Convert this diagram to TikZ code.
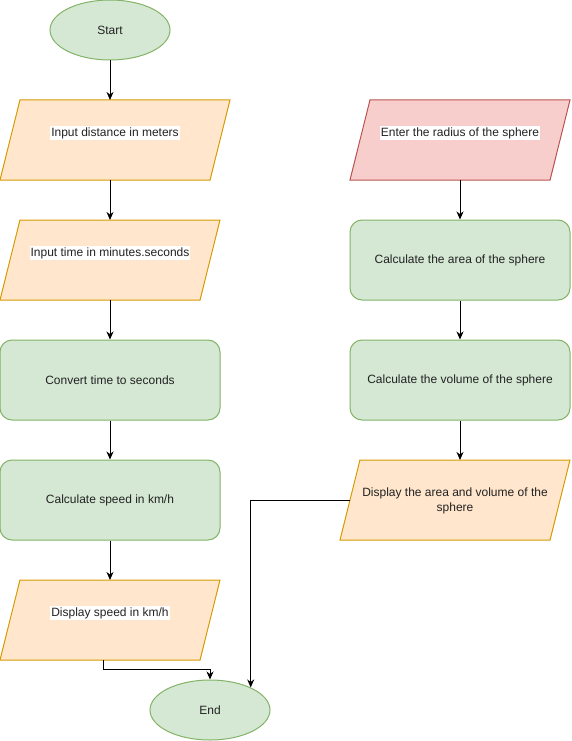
\documentclass[tikz,border=0pt]{standalone}
\usepackage{fontspec}
\setmainfont{Liberation Sans}
\usepackage{tikz}
\usetikzlibrary{arrows.meta,positioning,shapes.geometric}

\definecolor{termfill}{HTML}{D5E8D4}
\definecolor{termline}{HTML}{82B366}
\definecolor{iofill}{HTML}{FFE6CC}
\definecolor{ioline}{HTML}{D79B00}
\definecolor{redfill}{HTML}{F8CECC}
\definecolor{redline}{HTML}{B85450}
\definecolor{txt}{HTML}{222222}

\tikzset{
    term/.style={ellipse, draw=termline, fill=termfill, line width=1pt,
        minimum width=120pt, minimum height=60pt, inner sep=0pt, text=txt},
    io/.style={trapezium, trapezium left angle=76, trapezium right angle=104,
        trapezium stretches body, draw=ioline, fill=iofill, line width=1pt,
        minimum width=230pt, inner xsep=0pt, inner ysep=40pt, outer sep=0pt},
    proc/.style={rectangle, rounded corners=12pt, draw=termline, fill=termfill,
        line width=1pt, minimum width=220pt, minimum height=80pt, inner sep=0pt,
        text=txt},
    lbl/.style={fill=white, inner sep=1pt, text=txt, align=center},
    arr/.style={-{Stealth[length=8pt,width=7pt,inset=2.5pt]}, line width=1pt}
}

\begin{document}
\begin{tikzpicture}[x=1pt,y=-1pt,font=\fontsize{12}{15}\selectfont]
    \useasboundingbox (0,0) rectangle (571,741);
    % left column
    \node[term] (start) at (110,30) {Start};
    \node[io] (dist) at (115,140) {};
    \node[lbl] (distT) at (115,133) {Input distance in meters};
    \node[io, minimum width=220pt] (time) at (110,260) {};
    \node[lbl] (timeT) at (110,253) {Input time in minutes.seconds};
    \node[proc] (conv) at (110,380) {Convert time to seconds};
    \node[proc] (speed) at (110,500) {Calculate speed in km/h};
    \node[io, minimum width=220pt] (show) at (110,620) {};
    \node[lbl] (showT) at (110,613) {Display speed in km/h};
    \node[term] (end) at (210,710) {End};
    % right column
    \node[io, minimum width=220pt, draw=redline, fill=redfill] (rad) at (460,140) {};
    \node[lbl] (radT) at (460,133) {Enter the radius of the sphere};
    \node[proc] (area) at (460,260) {Calculate the area of the sphere};
    \node[proc] (vol) at (460,380) {Calculate the volume of the sphere};
    \node[io] (disp) at (455,500) {};
    \node[text=txt, align=center] (dispT) at (455,501)
        {Display the area and volume of the\\sphere};

    \draw[arr] (start.south) -- (start.south |- dist.north);
    \draw[arr] (dist.south -| time.north) -- (time.north);
    \draw[arr] (time.south) -- (conv.north);
    \draw[arr] (conv) -- (speed);
    \draw[arr] (speed) -- (show.north);
    \draw[arr] ([xshift=-7pt]show.south) |- ([yshift=10pt]end.north) -- (end.north);
    \draw[arr] (rad.south) -- (area.north);
    \draw[arr] (area) -- (vol);
    \draw[arr] (vol.south) -- (vol.south |- disp.north);
    \draw[arr] (disp.west) -| (end.29);
\end{tikzpicture}
\end{document}
